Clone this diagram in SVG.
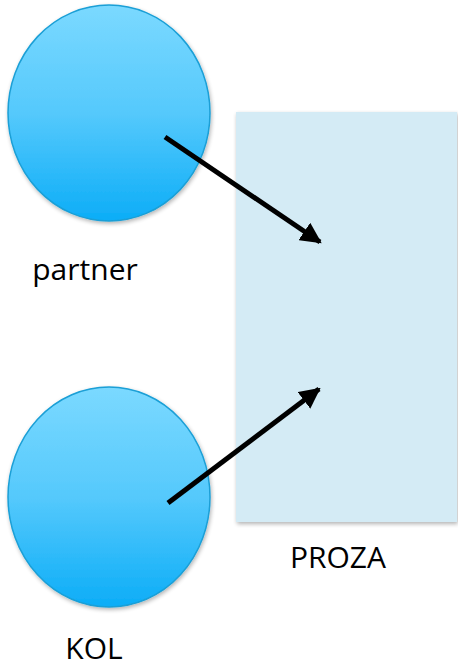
<svg xmlns="http://www.w3.org/2000/svg" width="458" height="668" viewBox="0 0 458 668">
<defs>
<linearGradient id="g" x1="0" y1="0" x2="0" y2="1">
<stop offset="0" stop-color="#7BD9FF"/>
<stop offset="0.5" stop-color="#55C9FC"/>
<stop offset="1" stop-color="#0CADF7"/>
</linearGradient>
<filter id="sh" x="-10%" y="-10%" width="125%" height="125%">
<feGaussianBlur in="SourceAlpha" stdDeviation="2"/>
<feOffset dx="1" dy="2"/>
<feComponentTransfer><feFuncA type="linear" slope="0.3"/></feComponentTransfer>
<feMerge><feMergeNode/><feMergeNode in="SourceGraphic"/></feMerge>
</filter>
<marker id="ah" viewBox="0 0 10 10" refX="9" refY="5" markerWidth="4.2" markerHeight="4.2" orient="auto" markerUnits="strokeWidth">
<path d="M0,0 L10,5 L0,10 z" fill="#000"/>
</marker>
<style>
.c{fill:url(#g);stroke:#1A9FD6;stroke-width:1.5;filter:url(#sh)}
.r{fill:#D4EBF5;filter:url(#sh)}
.t{font-family:"Open Sans","Liberation Sans",Arial,sans-serif;font-size:30px;fill:#000}
.a{stroke:#000;stroke-width:5;fill:none;marker-end:url(#ah)}
</style>
</defs>
<g id="proza">
<rect class="r" x="236" y="112" width="221" height="410"/>
<text class="t" x="338" y="568" text-anchor="middle">PROZA</text>
</g>
<g id="partner">
<ellipse class="c" cx="109" cy="113" rx="101" ry="108"/>
<text class="t" x="85" y="280" text-anchor="middle">partner</text>
</g>
<g id="kol">
<ellipse class="c" cx="109" cy="497" rx="101" ry="110"/>
<text class="t" x="94" y="659" text-anchor="middle">KOL</text>
</g>
<g id="connectors">
<line class="a" x1="165" y1="137" x2="320" y2="242"/>
<line class="a" x1="168" y1="503" x2="319" y2="389"/>
</g>
</svg>
